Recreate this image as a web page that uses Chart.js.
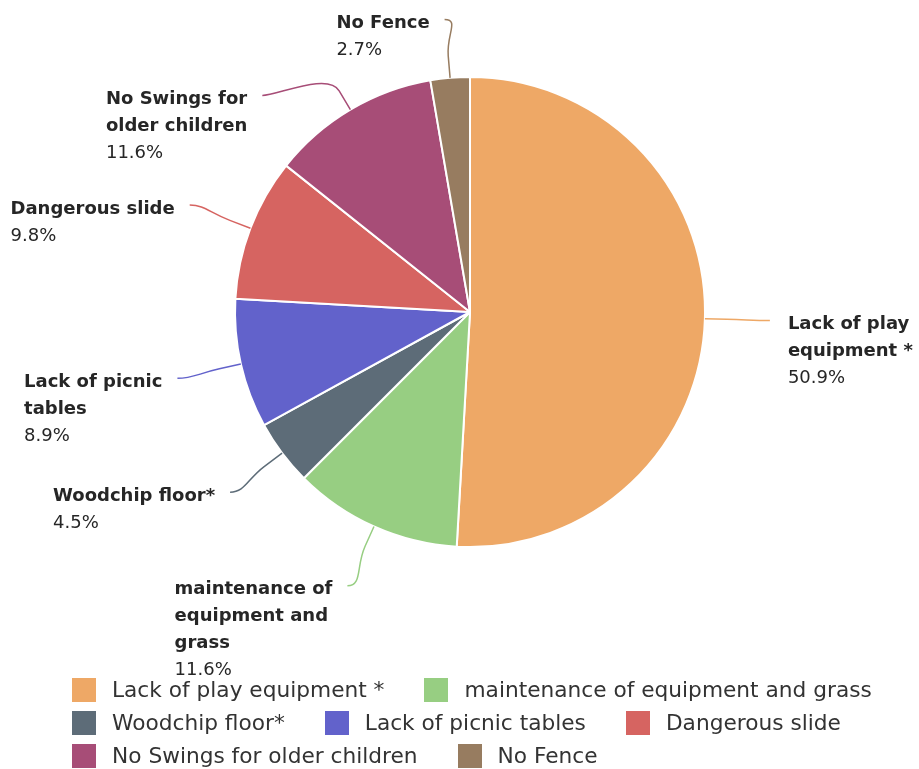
<!DOCTYPE html>
<html>
<head>
<meta charset="utf-8">
<title>Playground problems</title>
<script src="https://cdn.jsdelivr.net/npm/chart.js@4.4.1/dist/chart.umd.min.js"></script>
<style>
    html, body { margin: 0; padding: 0; background: #ffffff; }
    #wrap { position: relative; width: 919px; height: 769px; }
    #legend {
        position: absolute; left: 72px; top: 678px; width: 835px;
        display: flex; flex-wrap: wrap; column-gap: 40px; row-gap: 9px;
        font-family: 'DejaVu Sans', sans-serif; font-size: 21.7px; color: #333333;
    }
    .item { display: flex; align-items: center; height: 24px; line-height: 24px; white-space: nowrap; }
    .box { width: 24px; height: 24px; margin-right: 16px; }
</style>
</head>
<body>
<div id="wrap">
    <canvas id="grafico"></canvas>
    <div id="legend"></div>
</div>
<script>

const categorias = [
    'Lack of play equipment *',
    'maintenance of equipment and grass',
    'Woodchip floor*',
    'Lack of picnic tables',
    'Dangerous slide',
    'No Swings for older children',
    'No Fence'
];

// how the slice labels wrap next to the pie
const lineasEtiqueta = [
    ['Lack of play', 'equipment *'],
    ['maintenance of', 'equipment and', 'grass'],
    ['Woodchip floor*'],
    ['Lack of picnic', 'tables'],
    ['Dangerous slide'],
    ['No Swings for', 'older children'],
    ['No Fence']
];

const porcentajes = [50.9, 11.6, 4.5, 8.9, 9.8, 11.6, 2.7];

const colores = ['#EEA866', '#97CE82', '#5D6C78', '#6262CB', '#D66461', '#A74D77', '#977C60'];


const etiquetasPlugin = {
    id: 'etiquetasPie',
    afterDatasetsDraw(chart) {
        const ctx = chart.ctx;
        const arcos = chart.getDatasetMeta(0).data;
        const alto = 27;
        const items = arcos.map((arco, i) => {
            const p = arco.getProps(['x', 'y', 'startAngle', 'endAngle', 'outerRadius'], true);
            const medio = (p.startAngle + p.endAngle) / 2;
            const R = p.outerRadius + 65;
            const lineas = lineasEtiqueta[i].length + 1;
            return {
                i, p, medio, R,
                lado: Math.cos(medio) >= 0 ? 1 : -1,
                top: p.y + R * Math.sin(medio) - 9.5,
                alto: lineas * alto,
                movido: false
            };
        });

        // push overlapping labels down, per side
        [1, -1].forEach(lado => {
            const grupo = items.filter(it => it.lado === lado).sort((a, b) => a.top - b.top);
            let fondo = -Infinity;
            grupo.forEach(it => {
                if (it.top < 10) it.top = 10;
                if (it.top < fondo + 22) {
                    it.top = fondo + 22;
                    it.movido = true;
                }
                fondo = it.top + it.alto;
            });
        });

        ctx.save();
        items.forEach(it => {
            const { p, medio, R, lado } = it;
            const ay = it.top + 9.5;
            const dy = ay - p.y;
            const ax = it.movido
                ? p.x + lado * Math.sqrt(Math.max(R * R - dy * dy, 0))
                : p.x + R * Math.cos(medio);
            const ex = p.x + p.outerRadius * Math.cos(medio);
            const ey = p.y + p.outerRadius * Math.sin(medio);
            const bx = p.x + (p.outerRadius + 22) * Math.cos(medio);
            const by = p.y + (p.outerRadius + 22) * Math.sin(medio);

            ctx.beginPath();
            ctx.moveTo(ax, ay);
            ctx.bezierCurveTo(ax - lado * 15, ay, 2 * bx - ex, 2 * by - ey, bx, by);
            ctx.lineTo(ex, ey);
            ctx.strokeStyle = colores[it.i];
            ctx.lineWidth = 1.5;
            ctx.stroke();

            const nombre = lineasEtiqueta[it.i];
            const pct = porcentajes[it.i].toFixed(1) + '%';
            ctx.font = 'bold 18px "DejaVu Sans"';
            let ancho = Math.max(...nombre.map(t => ctx.measureText(t).width));
            ctx.font = '18px "DejaVu Sans"';
            ancho = Math.max(ancho, ctx.measureText(pct).width);
            const x0 = lado > 0 ? ax + 18 : ax - 15 - ancho;

            ctx.fillStyle = '#262626';
            ctx.textAlign = 'left';
            ctx.textBaseline = 'middle';
            ctx.font = 'bold 18px "DejaVu Sans"';
            nombre.forEach((t, k) => ctx.fillText(t, x0, ay + 4 + k * alto));
            ctx.font = '18px "DejaVu Sans"';
            ctx.fillText(pct, x0, ay + 4 + nombre.length * alto);
        });
        ctx.restore();
    }
};


document.addEventListener('DOMContentLoaded', function() {
    const canvas = document.getElementById('grafico');
    canvas.width = 919;
    canvas.height = 769;

    new Chart(canvas.getContext('2d'), {
        type: 'pie',
        data: {
            labels: categorias,
            datasets: [{
                data: porcentajes,
                backgroundColor: colores,
                borderColor: '#ffffff',
                borderWidth: 2,
                radius: 235
            }]
        },
        options: {
            responsive: false,
            animation: false,
            layout: { padding: { left: 21, right: 0, top: 0, bottom: 145 } },
            plugins: {
                legend: { display: false },
                tooltip: { enabled: false }
            }
        },
        plugins: [etiquetasPlugin]
    });

    const leyenda = document.getElementById('legend');
    categorias.forEach((nombre, i) => {
        const item = document.createElement('div');
        item.className = 'item';
        const caja = document.createElement('span');
        caja.className = 'box';
        caja.style.backgroundColor = colores[i];
        item.appendChild(caja);
        item.appendChild(document.createTextNode(nombre));
        leyenda.appendChild(item);
    });
});
</script>
</body>
</html>
